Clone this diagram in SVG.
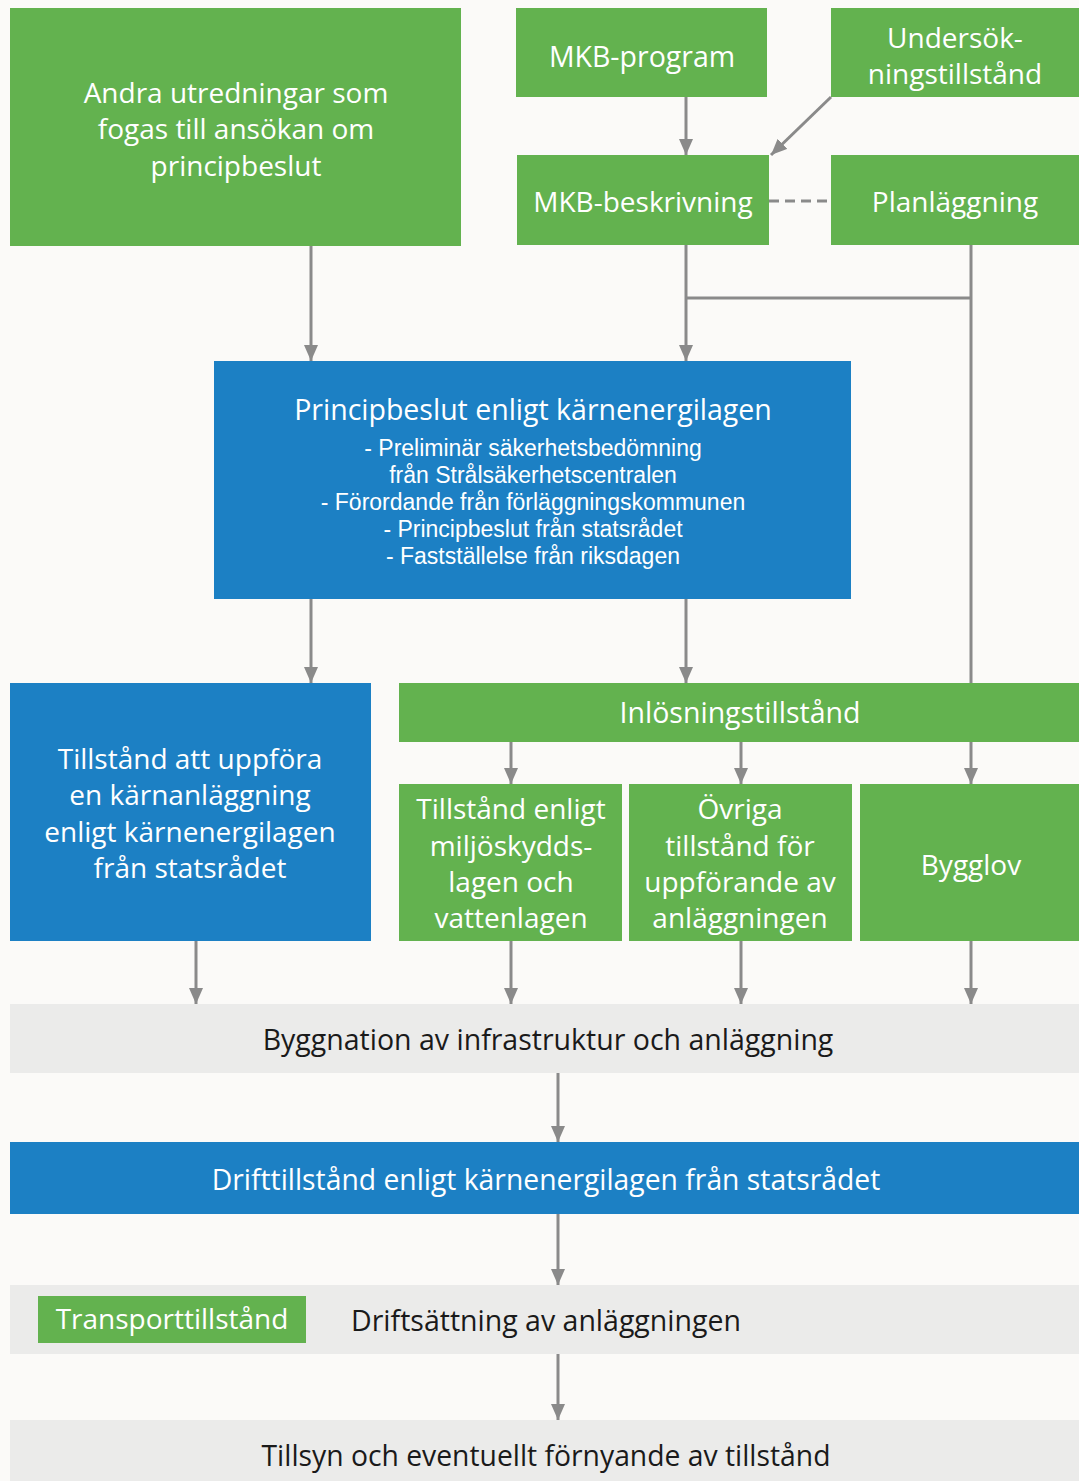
<svg xmlns="http://www.w3.org/2000/svg" width="1079" height="1481" viewBox="0 0 1079 1481">
<defs>
<marker id="ah" markerWidth="16" markerHeight="14" refX="16" refY="7" orient="auto" markerUnits="userSpaceOnUse" viewBox="0 0 16 14">
<path d="M0,0 L16,7 L0,14 Z" fill="#8a8a8a"/>
</marker>
<style>
.g{fill:#63b24f}
.b{fill:#1c80c4}
.gr{fill:#ebebea}
.t{font-family:"Open Sans","Noto Sans",sans-serif;fill:#ffffff;text-anchor:middle}
.s{font-family:"Liberation Sans",Arial,sans-serif;fill:#ffffff;text-anchor:middle}
.d{font-family:"Open Sans","Noto Sans",sans-serif;fill:#1a1a1a;text-anchor:middle}
.c{stroke:#8a8a8a;stroke-width:3;fill:none}
</style>
</defs>
<rect width="1079" height="1481" fill="#fbfaf8"/>
<g id="connectors">
<line class="c" x1="686" y1="97" x2="686" y2="155" marker-end="url(#ah)"/>
<line class="c" x1="831" y1="97" x2="771" y2="155" marker-end="url(#ah)"/>
<line class="c" x1="769" y1="201" x2="831" y2="201" stroke-dasharray="10,6"/>
<line class="c" x1="311" y1="246" x2="311" y2="361" marker-end="url(#ah)"/>
<line class="c" x1="686" y1="245" x2="686" y2="361" marker-end="url(#ah)"/>
<line class="c" x1="686" y1="298" x2="971" y2="298"/>
<line class="c" x1="971" y1="245" x2="971" y2="784" marker-end="url(#ah)"/>
<line class="c" x1="311" y1="599" x2="311" y2="683" marker-end="url(#ah)"/>
<line class="c" x1="686" y1="599" x2="686" y2="683" marker-end="url(#ah)"/>
<line class="c" x1="511" y1="742" x2="511" y2="784" marker-end="url(#ah)"/>
<line class="c" x1="741" y1="742" x2="741" y2="784" marker-end="url(#ah)"/>
<line class="c" x1="196" y1="941" x2="196" y2="1004" marker-end="url(#ah)"/>
<line class="c" x1="511" y1="941" x2="511" y2="1004" marker-end="url(#ah)"/>
<line class="c" x1="741" y1="941" x2="741" y2="1004" marker-end="url(#ah)"/>
<line class="c" x1="971" y1="941" x2="971" y2="1004" marker-end="url(#ah)"/>
<line class="c" x1="558" y1="1073" x2="558" y2="1142" marker-end="url(#ah)"/>
<line class="c" x1="558" y1="1214" x2="558" y2="1285" marker-end="url(#ah)"/>
<line class="c" x1="558" y1="1354" x2="558" y2="1420" marker-end="url(#ah)"/>
</g>
<g id="andra">
<rect class="g" x="10" y="8" width="451" height="238"/>
<text class="t" font-size="28"><tspan x="236" y="103">Andra utredningar som</tspan><tspan x="236" y="139">fogas till ansökan om</tspan><tspan x="236" y="176">principbeslut</tspan></text>
</g>
<g id="mkb-program">
<rect class="g" x="516" y="8" width="251" height="89"/>
<text class="t" font-size="28.5" x="642" y="67">MKB-program</text>
</g>
<g id="undersok">
<rect class="g" x="831" y="8" width="248" height="89"/>
<text class="t" font-size="28"><tspan x="955" y="48">Undersök-</tspan><tspan x="955" y="84">ningstillstånd</tspan></text>
</g>
<g id="mkb-beskrivning">
<rect class="g" x="517" y="155" width="252" height="90"/>
<text class="t" font-size="28" x="643" y="212">MKB-beskrivning</text>
</g>
<g id="planlaggning">
<rect class="g" x="831" y="155" width="248" height="90"/>
<text class="t" font-size="28" x="955" y="212">Planläggning</text>
</g>
<g id="principbeslut">
<rect class="b" x="214" y="361" width="637" height="238"/>
<text class="t" font-size="28.5" x="533" y="420">Principbeslut enligt kärnenergilagen</text>
<text class="s" font-size="23"><tspan x="533" y="456">- Preliminär säkerhetsbedömning</tspan><tspan x="533" y="483">från Strålsäkerhetscentralen</tspan><tspan x="533" y="510">- Förordande från förläggningskommunen</tspan><tspan x="533" y="537">- Principbeslut från statsrådet</tspan><tspan x="533" y="564">- Fastställelse från riksdagen</tspan></text>
</g>
<g id="tillstand-uppfora">
<rect class="b" x="10" y="683" width="361" height="258"/>
<text class="t" font-size="28"><tspan x="190" y="769">Tillstånd att uppföra</tspan><tspan x="190" y="805">en kärnanläggning</tspan><tspan x="190" y="842">enligt kärnenergilagen</tspan><tspan x="190" y="878">från statsrådet</tspan></text>
</g>
<g id="inlosning">
<rect class="g" x="399" y="683" width="680" height="59"/>
<text class="t" font-size="28.5" x="740" y="723">Inlösningstillstånd</text>
</g>
<g id="miljo">
<rect class="g" x="399" y="784" width="223" height="157"/>
<text class="t" font-size="28"><tspan x="511" y="819">Tillstånd enligt</tspan><tspan x="511" y="856">miljöskydds-</tspan><tspan x="511" y="892">lagen och</tspan><tspan x="511" y="928">vattenlagen</tspan></text>
</g>
<g id="ovriga">
<rect class="g" x="629" y="784" width="223" height="157"/>
<text class="t" font-size="28"><tspan x="740" y="819">Övriga</tspan><tspan x="740" y="856">tillstånd för</tspan><tspan x="740" y="892">uppförande av</tspan><tspan x="740" y="928">anläggningen</tspan></text>
</g>
<g id="bygglov">
<rect class="g" x="860" y="784" width="219" height="157"/>
<text class="t" font-size="28" x="971" y="875">Bygglov</text>
</g>
<g id="byggnation">
<rect class="gr" x="10" y="1004" width="1069" height="69"/>
<text class="d" font-size="28.5" x="548" y="1050">Byggnation av infrastruktur och anläggning</text>
</g>
<g id="drifttillstand">
<rect class="b" x="10" y="1142" width="1069" height="72"/>
<text class="t" font-size="28.3" x="546" y="1190">Drifttillstånd enligt kärnenergilagen från statsrådet</text>
</g>
<g id="driftsattning">
<rect class="gr" x="10" y="1285" width="1069" height="69"/>
<text class="d" font-size="28.5" x="546" y="1331">Driftsättning av anläggningen</text>
</g>
<g id="transport">
<rect class="g" x="38" y="1296" width="268" height="47"/>
<text class="t" font-size="28" x="172" y="1329">Transporttillstånd</text>
</g>
<g id="tillsyn">
<rect class="gr" x="10" y="1420" width="1069" height="61"/>
<text class="d" font-size="28.3" x="546" y="1466">Tillsyn och eventuellt förnyande av tillstånd</text>
</g>
</svg>
